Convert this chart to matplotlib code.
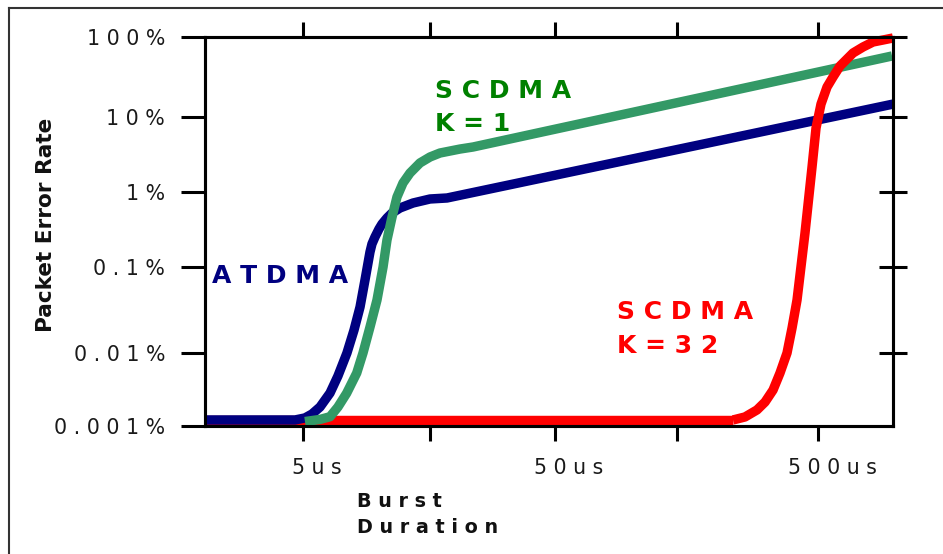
import numpy as np
import matplotlib
matplotlib.use("Agg")
import matplotlib.pyplot as plt
from matplotlib.lines import Line2D
from matplotlib.transforms import ScaledTranslation

# burst duration (us) vs packet error rate (%)
atdma_us = [2.04, 4.65, 5.09, 5.43, 5.84, 6.40, 6.88, 7.47, 7.97, 8.42, 8.81, 9.22,
            9.39, 9.65, 10.01, 10.29, 10.77, 11.28, 12.13, 13.66, 15.96, 18.64, 964]
atdma_per = [0.00121, 0.00121, 0.00129, 0.00146, 0.00182, 0.00283, 0.00484, 0.01,
             0.0185, 0.0343, 0.0706, 0.158, 0.203, 0.251, 0.321, 0.374, 0.450,
             0.525, 0.612, 0.713, 0.807, 0.832, 14.5]

scdma1_us = [5.09, 5.84, 6.40, 6.88, 7.45, 8.17, 8.65, 9.22, 9.83, 10.39, 10.77,
             11.28, 11.80, 12.47, 13.29, 14.56, 15.96, 17.48, 20.99, 23.64, 956]
scdma1_per = [0.00115, 0.00123, 0.00134, 0.00182, 0.00281, 0.00532, 0.01, 0.0200,
              0.0413, 0.1, 0.229, 0.464, 0.858, 1.32, 1.79, 2.44, 2.93, 3.31, 3.74,
              3.98, 57.9]

scdma32_us = [2.04, 237.6, 263.9, 293.1, 314.5, 337.3, 358.5, 381.2, 398.3, 416.1,
              446.2, 474.5, 491.4, 513.3, 541.1, 570.2, 606.3, 679.4, 741.6, 809.4,
              883.6, 964]
scdma32_per = [0.00121, 0.00121, 0.00133, 0.00166, 0.00213, 0.00311, 0.00532, 0.01,
               0.0195, 0.0413, 0.284, 2.15, 7.13, 14.5, 23.7, 31.6, 43.4, 63.1, 75.0,
               86.6, 91.7, 97.2]

x_ticks = [5, 50, 500]
x_labels = ["5 u s", "5 0 u s", "5 0 0 u s"]
x_minor = [16, 145]
y_ticks = [0.001, 0.01, 0.1, 1, 10, 100]
y_labels = ["0 . 0 0 1 %", "0 . 0 1 %", "0 . 1 %", "1 %", "1 0 %", "1 0 0 %"]

W, H = 943, 554

# the original axes are log axes with slightly uneven decades
X_LOG = np.log10([1e-3, 2.04, 5, 50, 500, 964, 1e6])
X_PIX = np.array([-629, 205, 303, 555, 818, 893, 1686], float)
Y_LOG = np.array([-8, -3, -2, -1, 0, 1, 2, 7], float)
Y_PIX = -np.array([791, 426, 353, 267, 192, 117, 37, -363], float)


def make_scale(lp, pp):
    def fwd(v):
        with np.errstate(divide="ignore", invalid="ignore"):
            return np.interp(np.log10(v), lp, pp)

    def inv(p):
        return 10 ** np.interp(p, pp, lp)
    return fwd, inv


def px(x, y):
    return x / W, 1 - y / H


fig = plt.figure(figsize=(W / 100, H / 100), dpi=100)
ax = fig.add_axes([205 / W, 1 - 426 / H, (893 - 205) / W, (426 - 37) / H])

ax.set_xscale("function", functions=make_scale(X_LOG, X_PIX))
ax.set_yscale("function", functions=make_scale(Y_LOG, Y_PIX))

lw = 6.8
kw = dict(lw=lw, solid_capstyle="butt", solid_joinstyle="round", clip_on=False)
ax.plot(scdma32_us[:2], scdma32_per[:2], color="#ff0000", zorder=2, **kw)
ax.plot(atdma_us, atdma_per, color="#000080", zorder=3, **kw)
ax.plot(scdma1_us, scdma1_per, color="#339966", zorder=4, **kw)
ax.plot(scdma32_us[1:], scdma32_per[1:], color="#ff0000", zorder=5, **kw)

ax.set_xlim(2.04, 964)
ax.set_ylim(0.001, 100)

ax.set_xticks(x_ticks)
ax.set_xticklabels(x_labels)
ax.set_xticks(x_minor, minor=True)
ax.set_yticks(y_ticks)
ax.set_yticklabels(y_labels)

for s in ax.spines.values():
    s.set_linewidth(2.2)

ax.tick_params(axis="x", which="both", direction="out", length=10.8, width=2.2,
               top=True, bottom=True, labelsize=14.8, pad=12, labelcolor="#1a1a1a")
ax.tick_params(axis="y", direction="out", length=17.3, width=2.2, right=False,
               labelsize=14.8, pad=11.5, labelcolor="#1a1a1a")
ax.yaxis.get_major_ticks()[0].tick1line.set_visible(False)

off = ScaledTranslation(0.14, 0, fig.dpi_scale_trans)
for t in ax.xaxis.get_major_ticks():
    t.label1.set_transform(t.label1.get_transform() + off)

ax2 = ax.twinx()
ax2.set_yscale("function", functions=make_scale(Y_LOG, Y_PIX))
ax2.set_ylim(0.001, 100)
ax2.set_yticks(y_ticks[1:])
ax2.set_yticklabels([])
ax2.tick_params(axis="y", direction="inout", length=20, width=2.2)
for s in ax2.spines.values():
    s.set_linewidth(2.2)

# series labels
bold = dict(fontsize=18, fontweight="bold", ha="left", va="baseline")
fig.text(*px(435, 98), "S C D M A", color="#008000", **bold)
fig.text(*px(435, 131), "K = 1", color="#008000", **bold)
fig.text(*px(212, 283), "A T D M A", color="#000080", **bold)
fig.text(*px(617, 319), "S C D M A", color="#ff0000", **bold)
fig.text(*px(617, 353), "K = 3 2", color="#ff0000", **bold)

# axis titles
fig.text(*px(357, 507), "B u r s t", fontsize=13.8, fontweight="bold",
         ha="left", va="baseline", color="#111111")
fig.text(*px(357, 533), "D u r a t i o n", fontsize=13.8, fontweight="bold",
         ha="left", va="baseline", color="#111111")
fig.text(*px(46, 225), "Packet Error Rate", fontsize=15.6, fontweight="bold",
         rotation=90, ha="center", va="center", color="#111111")

# outer frame
fig.add_artist(Line2D([9 / W, 1], [1 - 8 / H] * 2, transform=fig.transFigure,
                      color="#333333", lw=1.5))
fig.add_artist(Line2D([9 / W] * 2, [1 - 8 / H, 0], transform=fig.transFigure,
                      color="#333333", lw=1.5))

fig.savefig("out.png", dpi=100)
